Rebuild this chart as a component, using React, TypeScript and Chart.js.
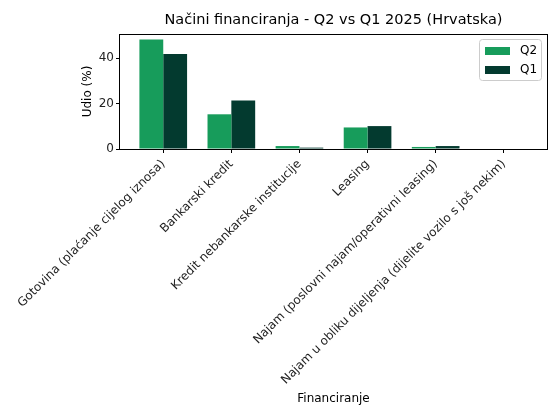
import React, { useEffect, useRef } from "react";
import { Chart, registerables } from "chart.js";

Chart.register(...registerables);

const TITLE = "Načini financiranja - Q2 vs Q1 2025 (Hrvatska)";
const X_TITLE = "Financiranje";
const Y_TITLE = "Udio (%)";

const categories = [
  "Gotovina (plaćanje cijelog iznosa)",
  "Bankarski kredit",
  "Kredit nebankarske institucije",
  "Leasing",
  "Najam (poslovni najam/operativni leasing)",
  "Najam u obliku dijeljenja (dijelite vozilo s još nekim)",
];

const q2Values = [48.3, 15.3, 1.3, 9.5, 0.9, 0.0];
const q1Values = [41.9, 21.4, 0.6, 10.1, 1.3, 0.0];

const seriesLabels = ["Q2", "Q1"];
const seriesColors = ["#179c5b", "#033a2f"];

const yTicks = [0, 20, 40];
const Y_MAX = 50.7;
const X_MIN = -0.635;
const X_MAX = 5.635;

const FONT = "'DejaVu Sans', 'Liberation Sans', sans-serif";

const framePlugin = {
  id: "frameAndLegend",
  afterDraw(chart: any) {
    const ctx = chart.ctx;
    const { left, right, top, bottom } = chart.chartArea;
    ctx.save();
    ctx.strokeStyle = "#000";
    ctx.lineWidth = 1;
    ctx.strokeRect(Math.round(left) - 0.5, Math.round(top) + 0.5, Math.round(right - left) + 1, Math.round(bottom - top));

    const w = 62;
    const h = 41;
    const x = right - 6 - w;
    const y = top + 5;
    ctx.beginPath();
    if ((ctx as any).roundRect) {
      (ctx as any).roundRect(x + 0.5, y + 0.5, w, h, 3);
    } else {
      ctx.rect(x + 0.5, y + 0.5, w, h);
    }
    ctx.fillStyle = "rgba(255,255,255,0.8)";
    ctx.fill();
    ctx.strokeStyle = "#cccccc";
    ctx.stroke();
    ctx.font = `12px ${FONT}`;
    ctx.textBaseline = "middle";
    ctx.textAlign = "left";
    chart.data.datasets.forEach((ds: any, i: number) => {
      const rowY = y + 12 + i * 19;
      ctx.fillStyle = ds.backgroundColor;
      ctx.fillRect(x + 6, rowY - 4, 25, 8);
      ctx.fillStyle = "#000";
      ctx.fillText(ds.label, x + 41, rowY);
    });
    ctx.restore();
  },
};

export default function App() {
  const ref = useRef<HTMLCanvasElement | null>(null);

  useEffect(() => {
    document.body.style.margin = "0";
    const canvas = ref.current;
    if (!canvas) return;
    const chart = new Chart(canvas, {
      type: "bar",
      data: {
        datasets: [q2Values, q1Values].map((vals, si) => ({
          label: seriesLabels[si],
          data: vals.map((v, i) => ({ x: i, y: v })),
          backgroundColor: seriesColors[si],
          borderWidth: 0,
          categoryPercentage: 0.7,
          barPercentage: 1.0,
        })),
      },
      options: {
        responsive: false,
        animation: false,
        devicePixelRatio: 1,
        layout: { padding: { left: 0, right: 13, top: 0, bottom: 0 } },
        plugins: {
          legend: { display: false },
          tooltip: { enabled: false },
          title: {
            display: true,
            text: TITLE,
            fullSize: false,
            color: "#000",
            font: { family: FONT, size: 14.5, weight: "normal" as any },
            padding: { top: 11.3, bottom: 5.3 },
          },
        },
        scales: {
          x: {
            type: "linear",
            min: X_MIN,
            max: X_MAX,
            offset: false,
            grid: {
              offset: false,
              drawOnChartArea: false,
              drawTicks: true,
              tickLength: 4,
              color: "#000",
              lineWidth: 1,
            },
            border: { display: false },
            afterBuildTicks: (scale: any) => {
              scale.ticks = categories.map((_, i) => ({ value: i }));
            },
            afterFit: (scale: any) => {
              scale.height = 271;
              scale.paddingLeft = 0;
              scale.paddingRight = 0;
            },
            ticks: {
              autoSkip: false,
              minRotation: 45,
              maxRotation: 45,
              padding: 4,
              color: "#222",
              font: { family: FONT, size: 12 },
              callback: (value: any) => categories[value as number] ?? "",
            },
            title: {
              display: true,
              text: X_TITLE,
              color: "#000",
              font: { family: FONT, size: 12 },
              padding: { top: 0, bottom: 13.8 },
            },
          },
          y: {
            type: "linear",
            min: 0,
            max: Y_MAX,
            grid: {
              drawOnChartArea: false,
              drawTicks: true,
              tickLength: 4,
              color: "#000",
              lineWidth: 1,
            },
            border: { display: false },
            afterBuildTicks: (scale: any) => {
              scale.ticks = yTicks.map((v) => ({ value: v }));
            },
            afterFit: (scale: any) => {
              scale.width = 120;
            },
            ticks: {
              padding: 2,
              color: "#222",
              font: { family: FONT, size: 12 },
            },
            title: {
              display: true,
              text: Y_TITLE,
              color: "#000",
              font: { family: FONT, size: 12 },
              padding: { top: 80.8, bottom: 0 },
            },
          },
        },
      },
      plugins: [framePlugin],
    } as any);
    return () => chart.destroy();
  }, []);

  return (
    <div style={{ position: "absolute", left: 0, top: 0, width: 560, height: 420, background: "#fff" }}>
      <canvas ref={ref} width={560} height={420} style={{ width: 560, height: 420, display: "block" }} />
    </div>
  );
}
